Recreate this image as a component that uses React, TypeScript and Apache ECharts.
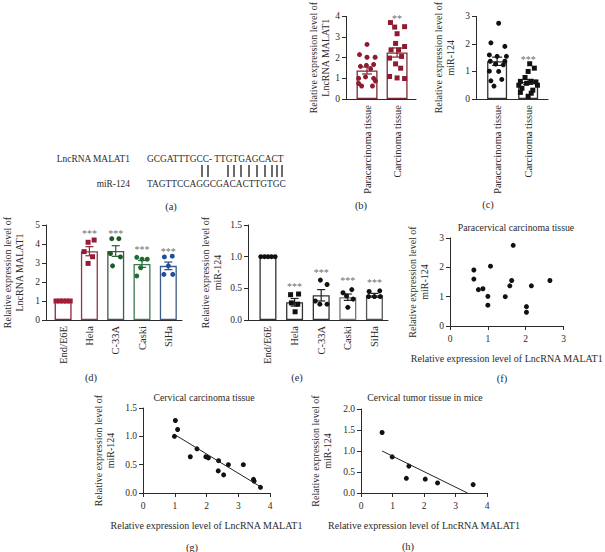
import React, { useEffect, useRef } from "react";
import * as echarts from "echarts";

const FONT = '"Liberation Serif", "Times New Roman", serif';
const INK = "#2b2b2b";

// ---------- (a) sequence alignment ----------
const seqNames = ["LncRNA MALAT1", "miR-124"];
const seqTop = "GCGATTTGCC- TTGTGAGCACT";
const seqBottom = "TAGTTCCAGGCGACACTTGTGC";
const pairX = [202, 208, 228, 234, 241, 249, 257, 265, 272, 277, 282];

// ---------- (b)(c)(f)(g) tissue data ----------
const tissueCategories = ["Paracarcinoma tissue", "Carcinoma tissue"];
const paraMALAT1 = [0.63, 0.63, 0.75, 0.87, 1.07, 1.0, 1.0, 1.58, 1.46, 1.67, 1.63, 2.15, 2.02, 2.02, 2.64];
const paraMiR124 = [1.91, 1.6, 1.24, 1.27, 2.04, 1.01, 0.71, 1.37, 1.0, 2.75, 1.55, 1.37, 0.66, 0.47, 1.55];
const carcMALAT1 = [1.02, 1.09, 0.99, 1.7, 1.49, 1.98, 2.06, 2.38, 2.69, 3.16, 2.37, 2.54, 3.48, 3.5, 3.7];
const carcMiR124 = [1.28, 1.12, 1.0, 0.78, 0.64, 0.64, 0.62, 0.57, 0.5, 0.5, 0.39, 0.32, 0.24, 0.21, 0.1];
const tissueMALAT1Mean = [1.38, 2.25];
const tissueMALAT1Sem = [0.17, 0.22];
const tissueMiR124Mean = [1.37, 0.62];
const tissueMiR124Sem = [0.15, 0.09];
const tissueMALAT1Stars = ["", "**"];
const tissueMALAT1StarY = [0, 3.97];
const tissueMiR124Stars = ["", "***"];
const tissueMiR124StarY = [0, 1.5];
// horizontal scatter of the dots inside each column (category units)
const jitParaB = [-0.18, 0.18, -0.28, 0.28, -0.05, -0.28, 0.22, -0.22, 0.12, 0.22, -0.02, -0.25, 0.0, 0.27, 0.0];
const jitCarcB = [0.0, -0.25, 0.25, -0.05, 0.12, -0.25, 0.15, -0.2, -0.05, 0.0, 0.05, 0.25, -0.08, 0.25, -0.22];
const jitParaC = [0.25, -0.25, 0.2, -0.05, -0.2, -0.25, 0.15, 0.25, 0.05, 0.05, 0.0, -0.22, -0.2, -0.1, 0.3];
const jitCarcC = [0.05, 0.2, 0.0, -0.1, -0.25, 0.1, 0.25, -0.05, -0.3, 0.3, -0.2, 0.15, -0.25, 0.1, 0.0];

// ---------- (d)(e) cell lines ----------
const cellCategories = ["End/E6E", "Hela", "C-33A", "Caski", "SiHa"];
const cellMALAT1 = [
  [1, 1, 1, 1, 1],
  [4.21, 4.09, 3.6, 3.33, 2.98],
  [4.28, 4.28, 3.5, 3.32, 2.85],
  [3.3, 3.2, 3.2, 2.75, 2.32],
  [3.32, 3.36, 2.85, 2.4, 2.4],
];
const cellMALAT1Mean = [1.0, 3.62, 3.63, 2.95, 2.85];
const cellMALAT1Sem = [0, 0.24, 0.28, 0.18, 0.2];
const cellMALAT1Stars = ["", "***", "***", "***", "***"];
const cellMALAT1StarY = [0, 4.62, 4.62, 3.77, 3.67];
const cellMiR124 = [
  [1, 1, 1, 1, 1],
  [0.4, 0.41, 0.27, 0.25, 0.13],
  [0.63, 0.56, 0.3, 0.25, 0.25],
  [0.43, 0.48, 0.38, 0.33, 0.2],
  [0.45, 0.46, 0.37, 0.37, 0.37],
];
const cellMiR124Mean = [1.0, 0.28, 0.39, 0.36, 0.39];
const cellMiR124Sem = [0, 0.06, 0.09, 0.05, 0.03];
const cellMiR124Stars = ["", "***", "***", "***", "***"];
const cellMiR124StarY = [0, 0.55, 0.77, 0.65, 0.61];
const jitCell = [
  [-0.27, -0.13, 0, 0.13, 0.27],
  [0.18, -0.05, -0.2, 0.12, -0.05],
  [-0.15, 0.12, -0.2, 0.18, -0.12],
  [-0.2, 0.0, 0.2, -0.05, -0.2],
  [-0.15, 0.15, 0.0, -0.17, 0.17],
];
const jitCellE = [
  [-0.27, -0.13, 0, 0.13, 0.27],
  [-0.15, 0.15, -0.12, 0.12, 0.02],
  [-0.03, 0.22, -0.22, -0.05, 0.22],
  [-0.18, 0.15, -0.05, 0.2, 0.0],
  [-0.2, 0.2, -0.22, 0.0, 0.22],
];

// ---------- (h) mice ----------
const miceMALAT1 = [0.67, 0.99, 1.52, 1.44, 2.04, 2.43, 3.56];
const miceMiR124 = [1.44, 0.86, 0.64, 0.35, 0.33, 0.24, 0.2];
const carcFitX = [1.0, 3.7];
const carcFitY = [1.03, 0.11];
const miceFitX = [0.67, 3.38];
const miceFitY = [1.0, 0.0];

const titleF = "Paracervical carcinoma tissue";
const titleG = "Cervical carcinoma tissue";
const titleH = "Cervical tumor tissue in mice";
const nameMALAT1 = "Relative expression level of\nLncRNA MALAT1";
const nameMiR = "Relative expression level of\nmiR-124";
const nameXScatter = "Relative expression level of LncRNA MALAT1";

const axisText = { fontFamily: FONT, color: INK };
const NAME_SIZE = 10;

function barPanel(i: number, cfg: any) {
  const pos = cfg.categories.map((_: string, k: number) => k + 1);
  const grid = { left: cfg.left, top: cfg.top, width: cfg.width, height: cfg.height };
  const xAxis = {
    gridIndex: i,
    type: "value",
    min: cfg.xMin,
    max: cfg.xMax,
    axisLine: { show: true, onZero: false, lineStyle: { color: INK, width: 1 } },
    axisTick: { show: false },
    splitLine: { show: false },
    axisLabel: {
      customValues: pos,
      formatter: (v: number) => cfg.categories[Math.round(v) - 1] ?? "",
      rotate: 90,
      margin: 6,
      fontSize: 10.5,
      ...axisText,
    },
  };
  const yAxis = {
    gridIndex: i,
    type: "value",
    min: 0,
    max: cfg.yMax,
    interval: cfg.yInterval,
    axisLine: { show: true, onZero: false, lineStyle: { color: INK, width: 1 } },
    axisTick: { show: true, length: 4, lineStyle: { color: INK } },
    splitLine: { show: false },
    axisLabel: { fontSize: 9.5, margin: 6, formatter: cfg.yFmt, ...axisText },
    name: cfg.yName,
    nameLocation: "middle",
    nameGap: cfg.nameGap,
    nameRotate: 90,
    nameTextStyle: { fontSize: NAME_SIZE, lineHeight: 12, ...axisText },
  };
  const series: any[] = [];
  series.push({
    type: "bar",
    xAxisIndex: i,
    yAxisIndex: i,
    barWidth: cfg.barWidth,
    silent: true,
    z: 2,
    data: cfg.means.map((m: number, k: number) => ({
      value: [k + 1, m],
      itemStyle: { color: "#ffffff", borderColor: cfg.barBorders[k], borderWidth: 1.3 },
    })),
  });
  series.push({
    type: "custom",
    xAxisIndex: i,
    yAxisIndex: i,
    silent: true,
    z: 3,
    encode: { x: 0, y: 1 },
    data: cfg.means.map((m: number, k: number) => [k + 1, m, cfg.sems[k], k]),
    renderItem: (_p: any, api: any) => {
      const x = api.value(0);
      const m = api.value(1);
      const s = api.value(2);
      const k = api.value(3);
      if (!s) return { type: "group", children: [] };
      const hi = api.coord([x, m + s]);
      const lo = api.coord([x, m - s]);
      const w = cfg.capHalf;
      const st = { stroke: cfg.errColors[k], lineWidth: 1.2 };
      return {
        type: "group",
        children: [
          { type: "line", shape: { x1: hi[0], y1: hi[1], x2: lo[0], y2: lo[1] }, style: st },
          { type: "line", shape: { x1: hi[0] - w, y1: hi[1], x2: hi[0] + w, y2: hi[1] }, style: st },
          { type: "line", shape: { x1: lo[0] - w, y1: lo[1], x2: lo[0] + w, y2: lo[1] }, style: st },
        ],
      };
    },
  });
  cfg.groups.forEach((g: number[], k: number) => {
    series.push({
      type: "scatter",
      xAxisIndex: i,
      yAxisIndex: i,
      silent: true,
      z: 4,
      symbol: cfg.symbols[k],
      symbolSize: cfg.symbolSize,
      itemStyle: { color: cfg.dotColors[k], opacity: 1 },
      data: g.map((v, j) => [k + 1 + cfg.jitter[k][j], v]),
    });
  });
  const starData = cfg.stars
    .map((s: string, k: number) => (s ? { value: [k + 1, cfg.starY[k]], name: s } : null))
    .filter((d: any) => d);
  series.push({
    type: "scatter",
    xAxisIndex: i,
    yAxisIndex: i,
    silent: true,
    z: 5,
    symbol: "circle",
    symbolSize: 1,
    itemStyle: { color: "rgba(255,255,255,0)" },
    label: {
      show: true,
      position: "inside",
      offset: [0, 1.5],
      formatter: (p: any) => p.name,
      fontSize: 10,
      color: "#444",
      textBorderWidth: 0,
      textBorderColor: "transparent",
      fontFamily: FONT,
    },
    data: starData,
  });
  return { grid, xAxis, yAxis, series };
}

function scatterPanel(i: number, cfg: any) {
  const grid = { left: cfg.left, top: cfg.top, width: cfg.width, height: cfg.height };
  const xAxis = {
    gridIndex: i,
    type: "value",
    min: 0,
    max: cfg.xMax,
    interval: 1,
    axisLine: { show: true, onZero: false, lineStyle: { color: INK, width: 1 } },
    axisTick: { show: true, length: 4, lineStyle: { color: INK } },
    splitLine: { show: false },
    axisLabel: { fontSize: 9.5, margin: 8, ...axisText },
    name: nameXScatter,
    nameLocation: "middle",
    nameGap: 27,
    nameTextStyle: { fontSize: NAME_SIZE, ...axisText },
  };
  const yAxis = {
    gridIndex: i,
    type: "value",
    min: 0,
    max: cfg.yMax,
    interval: cfg.yInterval,
    axisLine: { show: true, onZero: false, lineStyle: { color: INK, width: 1 } },
    axisTick: { show: true, length: 4, lineStyle: { color: INK } },
    splitLine: { show: false },
    axisLabel: { fontSize: 9.5, margin: 6, formatter: cfg.yFmt, ...axisText },
    name: nameMiR,
    nameLocation: "middle",
    nameGap: cfg.nameGap,
    nameRotate: 90,
    nameTextStyle: { fontSize: NAME_SIZE, lineHeight: 12, ...axisText },
  };
  const series: any[] = [
    {
      type: "scatter",
      xAxisIndex: i,
      yAxisIndex: i,
      silent: true,
      symbolSize: 5,
      itemStyle: { color: "#111", opacity: 1 },
      data: cfg.xs.map((x: number, j: number) => [x, cfg.ys[j]]),
    },
  ];
  if (cfg.fitX) {
    series.push({
      type: "line",
      xAxisIndex: i,
      yAxisIndex: i,
      silent: true,
      symbol: "none",
      lineStyle: { color: "#222", width: 1 },
      data: cfg.fitX.map((x: number, j: number) => [x, cfg.fitY[j]]),
    });
  }
  return { grid, xAxis, yAxis, series };
}

const fmt1 = (v: number) => v.toFixed(1);
const fmt0 = (v: number) => String(v);

function buildOption() {
  const redDark = "#8e1c30";
  const panels = [
    barPanel(0, {
      left: 346, top: 5, width: 70, height: 94, xMin: 0.3, xMax: 2.63,
      yMax: 4, yInterval: 1, yFmt: fmt0, yName: nameMALAT1, nameGap: 13,
      categories: tissueCategories, means: tissueMALAT1Mean, sems: tissueMALAT1Sem,
      barWidth: 21, capHalf: 5, barBorders: ["#7a2a36", "#7a2a36"], errColors: [redDark, redDark],
      groups: [paraMALAT1, carcMALAT1], jitter: [jitParaB, jitCarcB],
      symbols: ["circle", "rect"], symbolSize: 5, dotColors: [redDark, redDark],
      stars: tissueMALAT1Stars, starY: tissueMALAT1StarY,
    }),
    barPanel(1, {
      left: 476, top: 5, width: 72, height: 94, xMin: 0.32, xMax: 2.64,
      yMax: 3, yInterval: 1, yFmt: fmt0, yName: nameMiR, nameGap: 20,
      categories: tissueCategories, means: tissueMiR124Mean, sems: tissueMiR124Sem,
      barWidth: 20, capHalf: 5, barBorders: ["#333", "#333"], errColors: ["#222", "#222"],
      groups: [paraMiR124, carcMiR124], jitter: [jitParaC, jitCarcC],
      symbols: ["circle", "rect"], symbolSize: 5, dotColors: ["#111", "#111"],
      stars: tissueMiR124Stars, starY: tissueMiR124StarY,
    }),
    barPanel(2, {
      left: 43, top: 225, width: 139, height: 95, xMin: 0.35, xMax: 5.52,
      yMax: 5, yInterval: 1, yFmt: fmt0, yName: nameMALAT1, nameGap: 21,
      categories: cellCategories, means: cellMALAT1Mean, sems: cellMALAT1Sem,
      barWidth: 17, capHalf: 4,
      barBorders: ["#8a2a3a", "#8a3a44", "#3d5e45", "#3f7a50", "#3e5c8a"],
      errColors: ["#8a2a3a", "#8a2a3a", "#2d5a35", "#2f6a40", "#2e4c80"],
      groups: cellMALAT1, jitter: jitCell,
      symbols: ["rect", "rect", "circle", "circle", "circle"], symbolSize: 5,
      dotColors: ["#a01e38", "#951c36", "#1d5a26", "#1f6b35", "#1f4e9c"],
      stars: cellMALAT1Stars, starY: cellMALAT1StarY,
    }),
    barPanel(3, {
      left: 248, top: 225, width: 140, height: 95, xMin: 0.25, xMax: 5.51,
      yMax: 1.5, yInterval: 0.5, yFmt: fmt1, yName: nameMiR, nameGap: 25,
      categories: cellCategories, means: cellMiR124Mean, sems: cellMiR124Sem,
      barWidth: 17, capHalf: 4,
      barBorders: ["#333", "#333", "#333", "#777", "#555"],
      errColors: ["#222", "#222", "#222", "#222", "#222"],
      groups: cellMiR124, jitter: jitCellE,
      symbols: ["circle", "rect", "circle", "circle", "circle"], symbolSize: 5,
      dotColors: ["#111", "#111", "#111", "#111", "#111"],
      stars: cellMiR124Stars, starY: cellMiR124StarY,
    }),
    scatterPanel(4, {
      left: 450, top: 238, width: 131, height: 88, xMax: 3, yMax: 3, yInterval: 1,
      yFmt: fmt0, nameGap: 20, xs: paraMALAT1, ys: paraMiR124,
    }),
    scatterPanel(5, {
      left: 143, top: 408, width: 127, height: 85, xMax: 4, yMax: 1.5, yInterval: 0.5,
      yFmt: fmt1, nameGap: 27, xs: carcMALAT1, ys: carcMiR124, fitX: carcFitX, fitY: carcFitY,
    }),
    scatterPanel(6, {
      left: 361, top: 409, width: 126, height: 84, xMax: 4, yMax: 2, yInterval: 0.5,
      yFmt: fmt1, nameGap: 28, xs: miceMALAT1, ys: miceMiR124, fitX: miceFitX, fitY: miceFitY,
    }),
  ];

  const txt = (text: string, x: number, y: number, size: number, align = "center") => ({
    type: "text",
    x,
    y,
    silent: true,
    style: {
      text,
      fill: INK,
      font: `${size}px ${FONT}`,
      textAlign: align,
      textVerticalAlign: "middle",
      verticalAlign: "middle",
    },
  });

  const graphic: any[] = [
    txt(seqNames[0], 130, 159, 9.4, "right"),
    txt(seqTop, 147, 159, 9.4, "left"),
    txt(seqNames[1], 130, 184, 9.4, "right"),
    txt(seqBottom, 147, 184, 9.4, "left"),
    ...pairX.map((x) => ({
      type: "line",
      silent: true,
      shape: { x1: x, y1: 165, x2: x, y2: 177 },
      style: { stroke: INK, lineWidth: 1.4 },
    })),
    txt("(a)", 171, 206, 10.5),
    txt("(b)", 361, 205, 10.5),
    txt("(c)", 488, 204, 10.5),
    txt("(d)", 91, 377, 10.5),
    txt("(e)", 297, 377, 10.5),
    txt("(f)", 502, 378, 10.5),
    txt("(g)", 192, 547, 10.5),
    txt("(h)", 408, 546, 10.5),
    txt(titleF, 516, 227, 9.8),
    txt(titleG, 204, 397, 9.8),
    txt(titleH, 425, 397, 9.8),
  ];

  return {
    animation: false,
    backgroundColor: "#ffffff",
    textStyle: { fontFamily: FONT },
    grid: panels.map((p) => p.grid),
    xAxis: panels.map((p) => p.xAxis),
    yAxis: panels.map((p) => p.yAxis),
    series: panels.flatMap((p) => p.series),
    graphic,
  };
}

export default function App() {
  const ref = useRef<HTMLDivElement>(null);
  useEffect(() => {
    if (!ref.current) return;
    const chart = echarts.init(ref.current, undefined, { renderer: "svg" });
    chart.setOption(buildOption() as any);
    return () => chart.dispose();
  }, []);
  return (
    <div
      ref={ref}
      style={{ position: "absolute", left: 0, top: 0, width: 605, height: 552, background: "#fff" }}
    />
  );
}
